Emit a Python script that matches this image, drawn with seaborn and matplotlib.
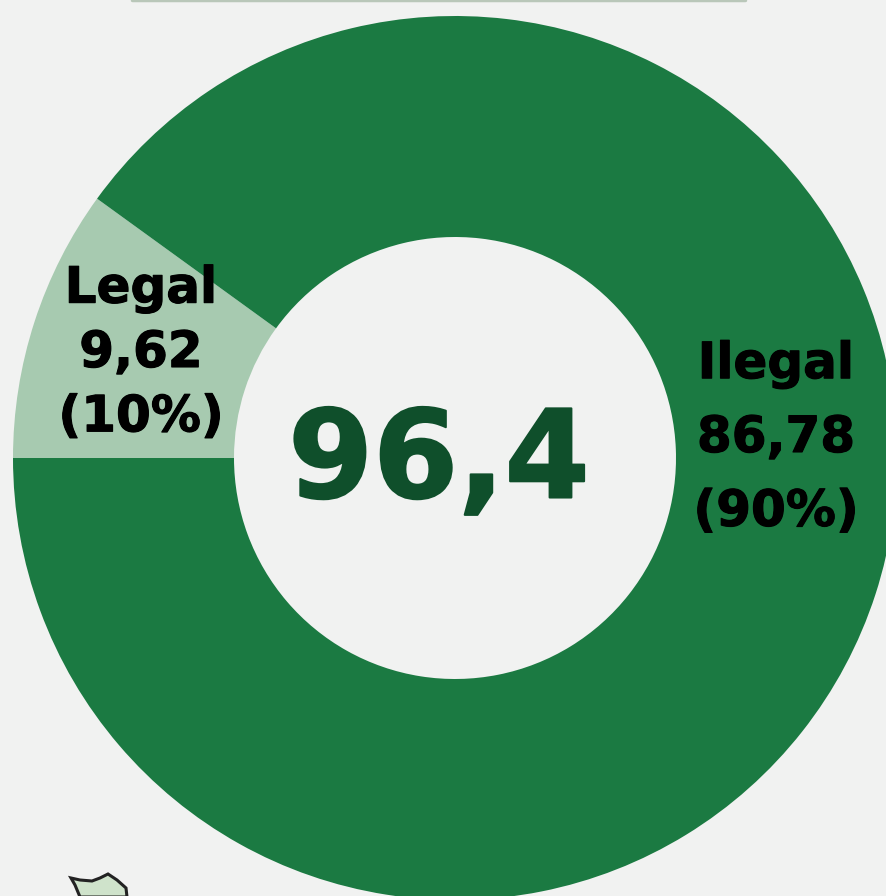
import numpy as np
import matplotlib
matplotlib.use("Agg")
import matplotlib.pyplot as plt
import matplotlib.patheffects as pe
from matplotlib.patches import Polygon
import seaborn as sns

labels = ["Legal", "Ilegal"]
values = [9.62, 86.78]
shares = ["10%", "90%"]
total = "96,4"
slice_colors = ["#a7cab0", "#1b7a42"]
background = "#f1f2f1"

sns.set_theme(style="white")
plt.rcParams['font.family'] = ['DejaVu Sans']

fig = plt.figure(figsize=(8.87, 8.96), dpi=100, facecolor=background)
ax = fig.add_axes([0, 0, 1, 1])
ax.set_facecolor(background)

R = 442
ax.pie(values, colors=slice_colors, startangle=180, counterclock=True,
       radius=R, center=(455, 458), frame=True,
       wedgeprops=dict(width=R - 221, linewidth=0))
ax.set_xlim(0, 887)
ax.set_ylim(896, 0)
ax.set_aspect("equal")
ax.axis("off")


def bold(lw, color):
    return [pe.withStroke(linewidth=lw, foreground=color)]


def fmt(v):
    return str(v).replace('.', ',')


ax.text(141, 353, f"{labels[0]}\n{fmt(values[0])}\n({shares[0]})",
        ha="center", va="center", fontsize=36, fontweight="bold", color="black",
        linespacing=1.43, path_effects=bold(0.8, "black"))
ax.text(776, 438, f"{labels[1]}\n{fmt(values[1])}\n({shares[1]})",
        ha="center", va="center", fontsize=36, fontweight="bold", color="black",
        linespacing=1.68, path_effects=bold(0.8, "black"))
ax.text(439, 464, total, ha="center", va="center", fontsize=88, fontweight="bold",
        color="#0f4f2b", path_effects=bold(1.5, "#0f4f2b"))

# remains of the neighbouring panels cropped by the frame
ax.plot([132, 745], [0, 0], color="#b9c7b9", lw=2.5, solid_capstyle="round")
ax.add_patch(Polygon([(71, 878), (80, 880), (92, 881), (100, 878), (108, 874),
                      (117, 880), (126, 888), (127, 897), (80, 897), (75, 885)],
                     closed=True, facecolor="#cfe3cb", edgecolor="#222222", lw=2.2))

fig.savefig("out.png", dpi=100, facecolor=fig.get_facecolor())
